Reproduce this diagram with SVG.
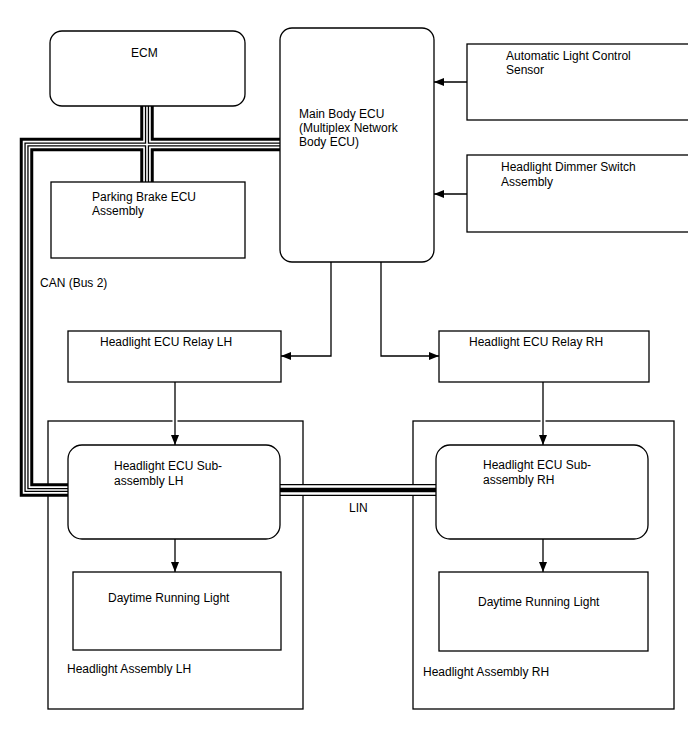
<svg xmlns="http://www.w3.org/2000/svg" width="688" height="755" viewBox="0 0 688 755">
<defs>
<marker id="arr" viewBox="0 0 10 8" refX="10" refY="4" markerWidth="10" markerHeight="8" markerUnits="userSpaceOnUse" orient="auto">
<path d="M0,0 L10,4 L0,8 Z" fill="#000"/>
</marker>
</defs>
<style>
text{font-family:"Liberation Sans",Arial,sans-serif;font-size:12px;fill:#000}
.box{fill:#fff;stroke:#000;stroke-width:1.3}
.asm{fill:none;stroke:#000;stroke-width:1.3}
.ln{fill:none;stroke:#000;stroke-width:1.3}
.halo{fill:none;stroke:#fff;stroke-width:5}
.c1{fill:none;stroke:#000;stroke-width:13.5}
.c2{fill:none;stroke:#fff;stroke-width:7.5}
.c3{fill:none;stroke:#000;stroke-width:4.2}
.c4{fill:none;stroke:#fff;stroke-width:1.6}
.l1{fill:none;stroke:#000;stroke-width:12}
.l2{fill:none;stroke:#fff;stroke-width:9.5}
.l3{fill:none;stroke:#000;stroke-width:4.5}
</style>
<g id="headlight-assembly-lh"><rect class="asm" x="48" y="421" width="255" height="288"/><text x="67" y="673">Headlight Assembly LH</text></g>
<g id="headlight-assembly-rh"><rect class="asm" x="413" y="421" width="261" height="288"/><text x="423" y="676">Headlight Assembly RH</text></g>
<g id="connectors">
<path class="c1" d="M280,144.5 H26.5 V490 H68"/>
<path class="c1" d="M147,106 V182"/>
<path class="c2" d="M280,144.5 H26.5 V490 H68"/>
<path class="c2" d="M147,106 V182"/>
<path class="c3" d="M280,144.5 H26.5 V490 H68"/>
<path class="c3" d="M147,106 V182"/>
<path class="c4" d="M280,144.5 H26.5 V490 H68"/>
<path class="c4" d="M147,106 V182"/>
<path class="l1" d="M280,490 H436"/>
<path class="l2" d="M280,490 H436"/>
<path class="l3" d="M280,490 H436"/>
<path class="ln" d="M467,82 H434" marker-end="url(#arr)"/>
<path class="ln" d="M467,194 H434" marker-end="url(#arr)"/>
<path class="ln" d="M331,262 V356 H281" marker-end="url(#arr)"/>
<path class="ln" d="M381,262 V356 H439" marker-end="url(#arr)"/>
<path class="halo" d="M175,417 V425"/>
<path class="ln" d="M175,382 V445" marker-end="url(#arr)"/>
<path class="halo" d="M543,417 V425"/>
<path class="ln" d="M543,382 V445" marker-end="url(#arr)"/>
<path class="ln" d="M175,539 V572" marker-end="url(#arr)"/>
<path class="ln" d="M543,539 V572" marker-end="url(#arr)"/>
</g>
<g id="ecm"><rect class="box" x="50" y="31" width="195" height="75" rx="12"/><text x="131" y="57">ECM</text></g>
<g id="main-body-ecu"><rect class="box" x="280" y="28" width="154" height="234" rx="12"/><text x="299" y="118">Main Body ECU</text><text x="299" y="132">(Multiplex Network</text><text x="299" y="146">Body ECU)</text></g>
<g id="auto-light-sensor"><rect class="box" x="467" y="44" width="230" height="76"/><text x="506" y="60">Automatic Light Control</text><text x="506" y="74">Sensor</text></g>
<g id="dimmer-switch"><rect class="box" x="467" y="155" width="230" height="77"/><text x="501" y="171">Headlight Dimmer Switch</text><text x="501" y="186">Assembly</text></g>
<g id="parking-brake-ecu"><rect class="box" x="51" y="182" width="194" height="76"/><text x="92" y="201">Parking Brake ECU</text><text x="92" y="215">Assembly</text></g>
<g id="can-label"><text x="40" y="287">CAN (Bus 2)</text></g>
<g id="relay-lh"><rect class="box" x="68" y="331" width="213" height="51"/><text x="100" y="346">Headlight ECU Relay LH</text></g>
<g id="relay-rh"><rect class="box" x="439" y="331" width="210" height="51"/><text x="469" y="346">Headlight ECU Relay RH</text></g>
<g id="ecu-sub-lh"><rect class="box" x="68" y="445" width="212" height="94" rx="14"/><text x="114" y="470">Headlight ECU Sub-</text><text x="114" y="485">assembly LH</text></g>
<g id="ecu-sub-rh"><rect class="box" x="436" y="445" width="212" height="94" rx="14"/><text x="483" y="469">Headlight ECU Sub-</text><text x="483" y="484">assembly RH</text></g>
<g id="lin-label"><text x="349" y="512">LIN</text></g>
<g id="drl-lh"><rect class="box" x="73" y="572" width="208" height="78"/><text x="108" y="602">Daytime Running Light</text></g>
<g id="drl-rh"><rect class="box" x="439" y="572" width="209" height="79"/><text x="478" y="606">Daytime Running Light</text></g>
</svg>
